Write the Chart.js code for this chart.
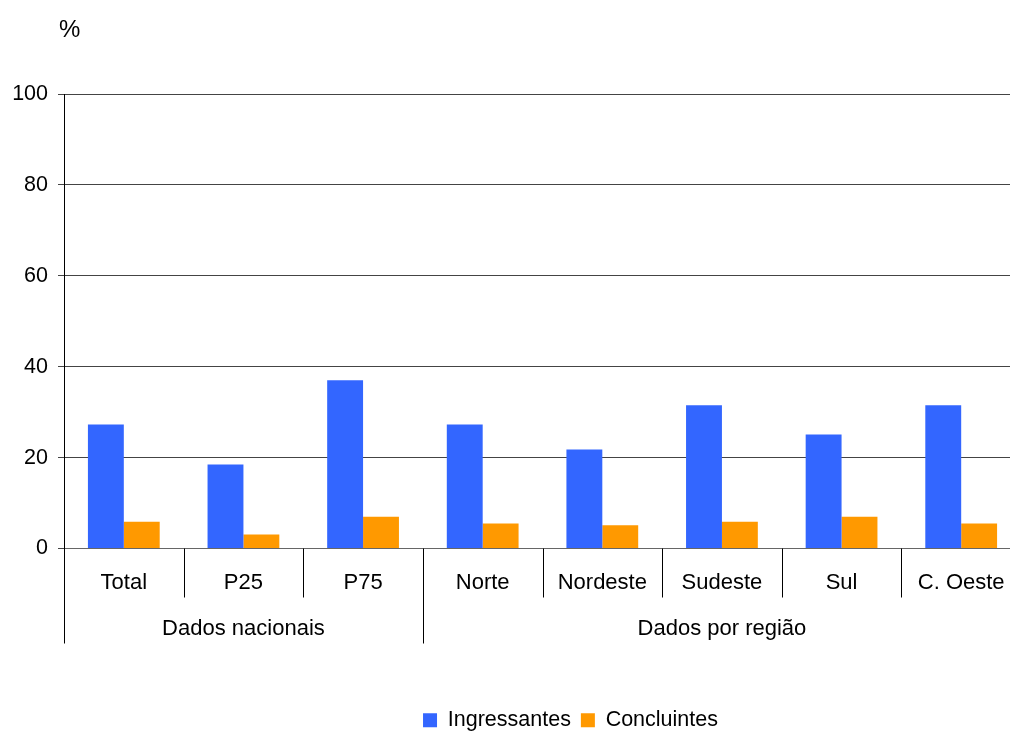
<!DOCTYPE html>
<html>
<head>
<meta charset="utf-8">
<script src="https://cdn.jsdelivr.net/npm/chart.js@4.4.1/dist/chart.umd.min.js"></script>
<style>
  html, body { margin: 0; padding: 0; background: #fff; overflow: hidden; }
  #wrap { width: 1010px; height: 731px; overflow: hidden; position: relative; }
  #box { width: 1021px; height: 731px; position: relative; }
</style>
</head>
<body>
<div id="wrap"><div id="box"><canvas id="chart"></canvas></div></div>
<script>
const categories = ["Total", "P25", "P75", "Norte", "Nordeste", "Sudeste", "Sul", "C. Oeste"];
const groupLabels = ["Dados nacionais", "Dados por região"];
const groupSizes = [3, 5];
const ingressantes = [27.3, 18.5, 37.0, 27.3, 21.8, 31.5, 25.1, 31.5];
const concluintes = [5.9, 3.1, 7.0, 5.5, 5.1, 5.9, 7.0, 5.5];
const yTicks = [0, 20, 40, 60, 80, 100];

const FONT = "'Liberation Sans', Arial, sans-serif";

// separators and group labels under the x axis, plus the "%" unit label
const axisDecor = {
  id: "axisDecor",
  afterLayout(chart) {
    // legend in the original is centred a bit right of the canvas middle
    chart.legend.left += 60;
    chart.legend.right += 60;
  },
  afterDraw(chart) {
    const { ctx, chartArea, scales: { x } } = chart;
    const n = categories.length;
    const half = (x.getPixelForValue(1) - x.getPixelForValue(0)) / 2;
    const bottom = chartArea.bottom;

    const groupEdges = [0];
    groupSizes.forEach((s, i) => groupEdges.push(groupEdges[i] + s));

    ctx.save();
    ctx.strokeStyle = "#000";
    ctx.lineWidth = 1;
    for (let i = 0; i <= n; i++) {
      const px = Math.round(x.getPixelForValue(0) - half + i * 2 * half) + 0.5;
      const long = groupEdges.includes(i);
      ctx.beginPath();
      ctx.moveTo(px, bottom);
      ctx.lineTo(px, bottom + (long ? 95 : 49));
      ctx.stroke();
    }

    ctx.fillStyle = "#000";
    ctx.font = "22px " + FONT;
    ctx.textAlign = "center";
    ctx.textBaseline = "alphabetic";
    groupLabels.forEach((label, g) => {
      const a = x.getPixelForValue(groupEdges[g]) - half;
      const b = x.getPixelForValue(groupEdges[g + 1] - 1) + half;
      ctx.fillText(label, (a + b) / 2, bottom + 86);
    });

    ctx.textAlign = "left";
    ctx.font = "24px " + FONT;
    ctx.fillText("%", 59, 37);
    ctx.restore();
  }
};

new Chart(document.getElementById("chart"), {
  type: "bar",
  data: {
    labels: categories,
    datasets: [
      {
        label: "Ingressantes",
        data: ingressantes,
        backgroundColor: "#3366FF",
        categoryPercentage: 0.6,
        barPercentage: 1.0,
      },
      {
        label: "Concluintes",
        data: concluintes,
        backgroundColor: "#FF9900",
        categoryPercentage: 0.6,
        barPercentage: 1.0,
      },
    ],
  },
  options: {
    responsive: true,
    maintainAspectRatio: false,
    animation: false,
    layout: { padding: { top: 94, right: 0, left: 0, bottom: -10 } },
    plugins: {
      tooltip: { enabled: false },
      legend: {
        position: "bottom",
        labels: {
          color: "#000",
          font: { family: FONT, size: 21.5 },
          boxWidth: 14,
          boxHeight: 14,
          padding: 10,
        },
      },
    },
    scales: {
      x: {
        grid: { display: false, drawTicks: false },
        border: { display: true, color: "#666", width: 1 },
        ticks: {
          color: "#000",
          font: { family: FONT, size: 22 },
          padding: 21,
          maxRotation: 0,
          autoSkip: false,
        },
        afterFit(scale) {
          scale.height = 151;
          scale.paddingLeft = 0;
          scale.paddingRight = 0;
        },
      },
      y: {
        min: 0,
        max: 100,
        afterBuildTicks(scale) { scale.ticks = yTicks.map(v => ({ value: v })); },
        grid: { color: "#444", tickLength: 6, drawTicks: true },
        border: { display: true, color: "#000", width: 1 },
        ticks: {
          color: "#000",
          font: { family: FONT, size: 21.5 },
          padding: 10,
        },
        afterFit(scale) {
          scale.width = 64;
          scale.paddingTop = 0;
          scale.paddingBottom = 0;
        },
      },
    },
  },
  plugins: [axisDecor],
});
</script>
</body>
</html>
